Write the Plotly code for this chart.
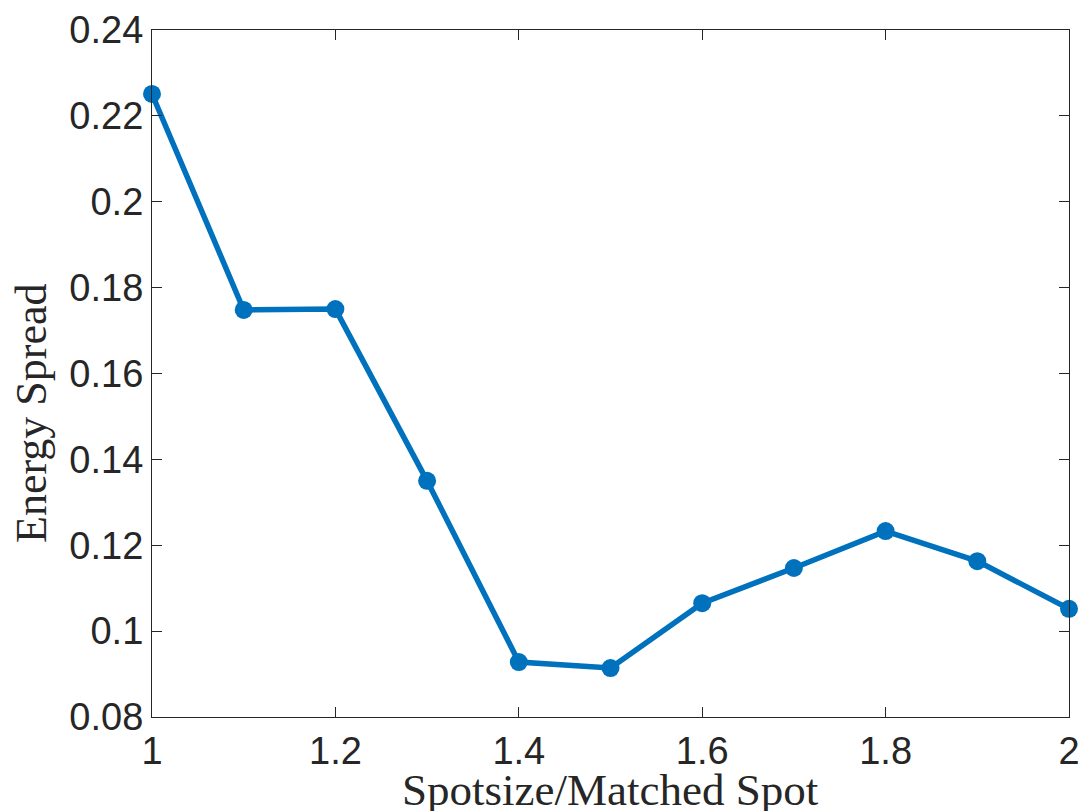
import plotly.graph_objects as go

spot_ratio = [1.0, 1.1, 1.2, 1.3, 1.4, 1.5, 1.6, 1.7, 1.8, 1.9, 2.0]
energy_spread = [0.2251, 0.1748, 0.1750, 0.1350, 0.0928, 0.0914, 0.1065, 0.1147, 0.1233, 0.1163, 0.1052]

x_ticks = [1, 1.2, 1.4, 1.6, 1.8, 2]
x_tick_labels = ["1", "1.2", "1.4", "1.6", "1.8", "2"]
y_ticks = [0.08, 0.1, 0.12, 0.14, 0.16, 0.18, 0.2, 0.22, 0.24]
y_tick_labels = ["0.08", "0.1", "0.12", "0.14", "0.16", "0.18", "0.2", "0.22", "0.24"]

W, H = 1083, 811
L, R, T, B = 152, 14, 30, 94
pw, ph = W - L - R, H - T - B

fig = go.Figure()
fig.add_trace(go.Scatter(
    x=spot_ratio, y=energy_spread, mode="lines+markers",
    line=dict(color="#0072BD", width=5.5),
    marker=dict(color="#0072BD", size=18),
    cliponaxis=False, showlegend=False,
))

axis_common = dict(
    showgrid=False, zeroline=False, showline=True, linecolor="#262626", linewidth=1.2,
    mirror="ticks", ticks="inside", ticklen=10, tickwidth=1.2, tickcolor="#262626",
    automargin=False,
    tickfont=dict(family="Liberation Sans, Arial, sans-serif", size=38, color="#262626"),
)

fig.update_xaxes(range=[1, 2], tickvals=x_ticks, ticktext=x_tick_labels, **axis_common)
fig.update_yaxes(range=[0.08, 0.24], tickvals=y_ticks, ticktext=y_tick_labels, **axis_common)

serif = "Liberation Serif, Times New Roman, serif"
fig.add_annotation(text="Spotsize/Matched Spot", xref="paper", yref="paper",
                   x=0.5, y=(T + ph - 790) / ph, xanchor="center", yanchor="middle",
                   showarrow=False, font=dict(family=serif, size=45, color="#262626"))
fig.add_annotation(text="Energy Spread", xref="paper", yref="paper",
                   x=(31 - L) / pw, y=(T + ph - 414) / ph, xanchor="center", yanchor="middle",
                   textangle=-90, showarrow=False,
                   font=dict(family=serif, size=44, color="#262626"))

fig.update_layout(
    width=W, height=H, margin=dict(l=L, r=R, t=T, b=B, autoexpand=False),
    paper_bgcolor="white", plot_bgcolor="white",
)

fig.write_html("out.html")
